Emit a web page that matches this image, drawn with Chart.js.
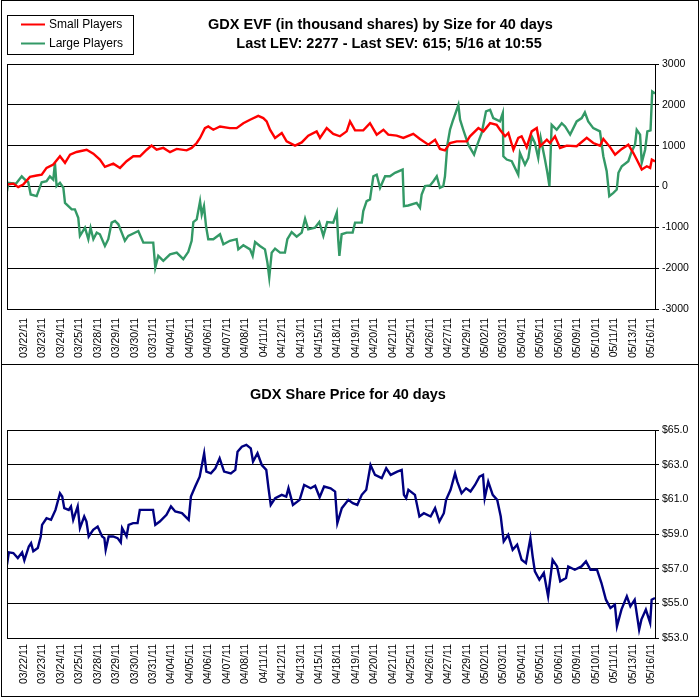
<!DOCTYPE html>
<html>
<head>
<meta charset="utf-8">
<title>GDX EVF by Size</title>
<script src="https://cdn.jsdelivr.net/npm/chart.js@4.4.0/dist/chart.umd.min.js"></script>
<style>
  body { margin: 0; background: #fff; }
  #page { position: relative; width: 700px; height: 698px; background: #fff; }
  #frame { position: absolute; left: 1px; top: 0; width: 696px; height: 695px; border: 1px solid #000; pointer-events: none; }
  #sep { position: absolute; left: 1px; top: 364px; width: 697px; height: 1px; background: #000; }
  canvas { position: absolute; left: 0; }
</style>
</head>
<body>
<div id="page">
  <canvas id="evf" width="700" height="364" style="top:0"></canvas>
  <canvas id="px" width="700" height="334" style="top:364px"></canvas>
  <div id="sep"></div>
  <div id="frame"></div>
</div>
<script>
// date labels under both panels
const dayLabels = ['03/22/11', '03/23/11', '03/24/11', '03/25/11', '03/28/11', '03/29/11', '03/30/11', '03/31/11',
    '04/04/11', '04/05/11', '04/06/11', '04/07/11', '04/08/11', '04/11/11', '04/12/11', '04/13/11', '04/15/11',
    '04/18/11', '04/19/11', '04/20/11', '04/21/11', '04/25/11', '04/26/11', '04/27/11', '04/29/11', '05/02/11',
    '05/03/11', '05/04/11', '05/05/11', '05/06/11', '05/09/11', '05/10/11', '05/11/11', '05/13/11', '05/16/11'];

// Small Players EVF (thousand shares), time in sessions
const smallT = [-0.48, -0.14, 0.12, 0.39, 0.75, 1.11, 1.38, 1.64, 2.0, 2.36, 2.63, 2.9, 3.25, 3.79, 4.15, 4.5, 4.77,
    5.22, 5.58, 5.93, 6.29, 6.65, 7.01, 7.27, 7.54, 7.9, 8.26, 8.62, 9.15, 9.42, 9.69, 9.87, 10.13, 10.31, 10.58,
    10.94, 11.47, 11.83, 12.19, 12.55, 12.99, 13.26, 13.44, 13.62, 13.89, 14.25, 14.51, 14.96, 15.32, 15.67, 16.12,
    16.3, 16.66, 17.01, 17.37, 17.73, 17.91, 18.18, 18.62, 18.98, 19.34, 19.7, 19.96, 20.41, 20.77, 21.3, 21.66,
    22.11, 22.47, 22.73, 23.0, 23.27, 23.63, 24.17, 24.34, 24.79, 25.06, 25.42, 25.77, 25.95, 26.22, 26.4, 26.67,
    26.93, 27.11, 27.38, 27.65, 27.92, 28.1, 28.46, 28.63, 28.9, 29.17, 29.53, 30.06, 30.6, 30.95, 31.31, 31.49,
    31.85, 32.12, 32.48, 32.83, 33.1, 33.28, 33.55, 33.82, 34.0, 34.09, 34.26];
const smallEVF = [50, 70, -15, 50, 235, 270, 290, 455, 540, 740, 580, 780, 845, 900, 805, 660, 480,
    560, 455, 620, 740, 740, 900, 1000, 900, 945, 840, 920, 885, 945, 1065, 1190, 1430, 1470, 1390,
    1470, 1430, 1430, 1550, 1635, 1730, 1675, 1595, 1390, 1190, 1310, 1105, 1000, 1080, 1245, 1350,
    1190, 1430, 1290, 1230, 1350, 1595, 1375, 1375, 1550, 1270, 1390, 1270, 1245, 1190, 1290, 1165,
    1025, 1145, 920, 885, 1065, 1105, 1105, 1230, 1430, 1350, 1550, 1510, 1390, 1230, 1310, 900,
    1190, 1230, 965, 1350, 1430, 985, 1145, 1065, 1230, 945, 1000, 985, 1190, 1065, 1000, 1165,
    965, 780, 920, 1025, 820, 660, 415, 495, 455, 660, 615];

// Large Players EVF
const largeT = [-0.48, -0.41, 0, 0.31, 0.48, 0.66, 0.79, 1.11, 1.38, 1.64, 1.82, 2.0, 2.09, 2.18, 2.36, 2.54, 2.63,
    2.81, 2.99, 3.16, 3.34, 3.43, 3.7, 3.88, 4.0, 4.15, 4.33, 4.5, 4.77, 4.95, 5.13, 5.31, 5.49, 5.67, 5.84, 6.02,
    6.56, 6.83, 7.36, 7.47, 7.63, 7.9, 8.26, 8.62, 8.97, 9.24, 9.42, 9.51, 9.69, 9.87, 9.96, 10.08, 10.19, 10.31,
    10.58, 10.94, 11.12, 11.47, 11.83, 11.92, 12.19, 12.55, 12.69, 12.82, 13.08, 13.35, 13.48, 13.58, 13.71, 13.89,
    14.16, 14.42, 14.55, 14.78, 15.05, 15.32, 15.5, 15.67, 16.03, 16.26, 16.48, 16.69, 17.01, 17.2, 17.28, 17.34,
    17.46, 17.73, 18.05, 18.18, 18.54, 18.62, 18.8, 18.98, 19.16, 19.34, 19.52, 19.79, 20.05, 20.32, 20.73, 20.8,
    21.03, 21.48, 21.66, 21.75, 21.93, 22.2, 22.38, 22.56, 22.73, 22.91, 23.0, 23.13, 23.27, 23.41, 23.63, 23.72,
    23.81, 23.98, 24.25, 24.56, 24.7, 24.97, 25.2, 25.42, 25.59, 25.95, 26.1, 26.13, 26.31, 26.58, 26.93, 27.02,
    27.29, 27.47, 27.65, 27.82, 28.0, 28.13, 28.36, 28.49, 28.6, 28.72, 28.99, 29.26, 29.44, 29.71, 30.06, 30.33,
    30.5, 30.68, 30.95, 31.31, 31.49, 31.67, 31.81, 32.03, 32.21, 32.3, 32.48, 32.83, 33.01, 33.19, 33.28, 33.46,
    33.55, 33.73, 33.85, 34.02, 34.11, 34.26];
const largeEVF = [-115, 90, 70, 250, 170, 105, -195, -235, 105, 130, 250, 170, 575, 10, 90, -30, -400,
    -480, -560, -560, -765, -1210, -1010, -1290, -1010, -1290, -1130, -1170, -1455, -1290, -885, -845, -925, -1130, -1330, -1210,
    -1090, -1375, -1375, -1985, -1700, -1820, -1660, -1620, -1780, -1600, -1330, -870, -805, -360, -685, -480, -970, -1290,
    -1290, -1170, -1415, -1330, -1290, -1540, -1440, -1540, -1700, -1360, -1455, -1540, -1860, -2230, -1620, -1520,
    -1620, -1620, -1290, -1115, -1230, -1130, -790, -1050, -1010, -870, -1210, -870, -885, -640, -1330, -1700,
    -1170, -1130, -1130, -885, -885, -600, -360, -315, 250, 290, -30, 250, 250, 335, 415, -480,
    -465, -400, -520, -195, 10, 25, 130, 250, -30, 10, 250, 1025, 1390, 1595, 1880, 2000,
    1635, 1390, 1025, 780, 985, 1310, 1840, 1880, 1675, 1595, 1800, 740, 660, 620, 290, 820,
    535, 700, 1230, 1065, 700, 1190, 660, 335, 10, 1510, 1390, 1550, 1470, 1270, 1595, 1675,
    1815, 1595, 1430, 1350, 740, 375, -235, -155, -75, 335, 495, 620, 860, 1025, 1390, 1270,
    580, 900, 1350, 1375, 2325, 2277];

// GDX share price ($)
const priceT = [-0.48, -0.38, -0.14, 0.1, 0.33, 0.45, 0.69, 0.81, 0.93, 1.17, 1.33, 1.4, 1.64, 1.88, 2.12, 2.36, 2.48,
    2.59, 2.83, 2.95, 3.07, 3.31, 3.43, 3.66, 3.78, 3.9, 4.14, 4.38, 4.62, 4.74, 4.81, 4.97, 5.21, 5.45, 5.62, 5.69,
    5.93, 6.04, 6.28, 6.52, 6.64, 7.0, 7.35, 7.47, 7.71, 8.07, 8.31, 8.54, 8.9, 9.26, 9.38, 9.61, 9.85, 10.09, 10.21,
    10.45, 10.69, 10.92, 11.16, 11.52, 11.76, 11.88, 12.11, 12.35, 12.59, 12.71, 12.95, 13.18, 13.42, 13.54, 13.66,
    13.9, 14.25, 14.49, 14.61, 14.85, 15.21, 15.45, 15.8, 16.04, 16.28, 16.52, 16.87, 17.11, 17.23, 17.47, 17.82,
    18.06, 18.3, 18.54, 18.78, 19.01, 19.25, 19.61, 19.85, 20.09, 20.44, 20.68, 20.8, 20.92, 21.04, 21.39, 21.63,
    21.87, 22.23, 22.47, 22.7, 22.94, 23.06, 23.3, 23.54, 23.66, 23.89, 24.13, 24.37, 24.61, 24.85, 25.04, 25.13,
    25.32, 25.56, 25.8, 25.99, 26.15, 26.39, 26.63, 26.87, 27.11, 27.34, 27.58, 27.7, 27.82, 28.06, 28.3, 28.53,
    28.77, 29.01, 29.18, 29.49, 29.61, 29.96, 30.32, 30.56, 30.8, 31.15, 31.39, 31.63, 31.87, 32.11, 32.22, 32.46,
    32.75, 32.94, 33.17, 33.41, 33.53, 33.77, 34.0, 34.08, 34.26];
const price = [57.23, 57.94, 57.9, 57.61, 57.94, 57.48, 58.28, 58.47, 58.0, 58.19, 58.86, 59.53, 59.91, 59.82, 60.39, 61.35, 61.16,
    60.49, 60.39, 60.59, 59.82, 60.59, 59.34, 60.01, 59.72, 58.86, 59.24, 59.43, 58.86, 58.76, 58.09, 58.86, 58.86, 58.76, 58.51, 59.34,
    58.86, 59.53, 59.63, 59.63, 60.39, 60.39, 60.39, 59.53, 59.72, 60.11, 60.59, 60.3, 60.2, 59.82, 61.16, 61.74, 62.31, 63.66, 62.6,
    62.5, 62.79, 63.37, 62.6, 62.5, 62.7, 63.75, 64.04, 64.14, 63.94, 63.18, 63.66, 62.98, 62.7, 61.64, 60.68,
    61.07, 61.26, 61.16, 61.64, 60.68, 60.97, 61.83, 61.64, 61.78, 61.12, 61.74, 61.64, 61.45, 59.63, 60.49, 60.97,
    60.78, 60.68, 61.26, 61.55, 62.98, 62.41, 62.22, 62.79, 62.41, 62.6, 62.7, 61.26, 61.07, 61.55, 61.26, 60.01,
    60.2, 60.01, 60.49, 59.72, 60.2, 60.97, 61.55, 62.5, 62.02, 61.35, 61.64, 61.45, 61.83, 62.31, 62.41, 61.07,
    62.02, 61.26, 60.97, 60.01, 58.57, 58.95, 58.09, 58.38, 57.51, 57.32, 58.76, 57.71, 56.84, 56.36, 56.75, 55.4,
    57.51, 57.13, 56.27, 56.46, 57.13, 56.94, 57.13, 57.42, 56.94, 56.94, 56.17, 55.21, 54.73, 54.92, 53.68, 54.64,
    55.4, 54.83, 55.21, 53.48, 54.06, 54.64, 53.87, 55.21, 55.31];

const FONT = "'Liberation Sans', Arial, sans-serif";
const tStart = -0.48, tEnd = 34.26;
const labelStart = 0.43, labelStep = 0.9888;

function xy(ts, vs) {
    return ts.map((t, i) => ({ x: t, y: vs[i] }));
}

function dateAxis(height, pad) {
    return {
        type: 'linear',
        min: tStart,
        max: tEnd,
        grid: { display: false, drawTicks: false },
        border: { color: '#000', width: 1 },
        ticks: {
            autoSkip: false,
            maxRotation: 90,
            minRotation: 90,
            padding: pad,
            color: '#000',
            font: { family: FONT, size: 10.5 },
            callback: (v, i) => dayLabels[i]
        },
        afterBuildTicks: (s) => {
            s.ticks = dayLabels.map((d, i) => ({ value: labelStart + i * labelStep }));
        },
        afterFit: (s) => { s.height = height; }
    };
}

// plot frame + texts drawn on the canvas
function decor(texts, legend) {
    return {
        id: 'decor',
        afterDraw(chart) {
            const ctx = chart.ctx;
            const a = chart.chartArea;
            ctx.save();
            ctx.strokeStyle = '#000';
            ctx.lineWidth = 1;
            ctx.strokeRect(a.left + 0.5, a.top + 0.5, a.right - a.left, a.bottom - a.top);
            ctx.fillStyle = '#000';
            ctx.textAlign = 'center';
            ctx.textBaseline = 'middle';
            ctx.font = 'bold 14.5px ' + FONT;
            texts.forEach(t => ctx.fillText(t[0], t[1], t[2]));
            if (legend) {
                ctx.strokeRect(7.5, 15.5, 126, 39);
                ctx.font = '12px ' + FONT;
                ctx.textAlign = 'left';
                legend.forEach((it, i) => {
                    const y = 24.5 + i * 19;
                    ctx.strokeStyle = it.color;
                    ctx.lineWidth = 2;
                    ctx.beginPath();
                    ctx.moveTo(21, y);
                    ctx.lineTo(45, y);
                    ctx.stroke();
                    ctx.fillText(it.label, 49, y + 0.5);
                });
            }
            ctx.restore();
        }
    };
}

new Chart(document.getElementById('evf'), {
    type: 'line',
    data: {
        datasets: [
            { label: 'Small Players', data: xy(smallT, smallEVF), borderColor: '#ff0000', borderWidth: 2.4 },
            { label: 'Large Players', data: xy(largeT, largeEVF), borderColor: '#339966', borderWidth: 2.4 }
        ]
    },
    options: {
        responsive: false,
        animation: false,
        layout: { padding: { left: 7, top: 64, right: 0, bottom: 0 } },
        elements: { point: { radius: 0 }, line: { tension: 0 } },
        plugins: { legend: { display: false }, tooltip: { enabled: false } },
        scales: {
            x: dateAxis(55, 9),
            y: {
                position: 'right',
                min: -3000,
                max: 3000,
                ticks: {
                    stepSize: 1000, padding: 3, color: '#000', font: { family: FONT, size: 10.5 },
                    callback: (v) => String(v)
                },
                grid: { color: '#000', tickLength: 4, tickColor: '#000' },
                border: { color: '#000' },
                afterFit: (s) => { s.width = 45; }
            }
        }
    },
    plugins: [decor([
        ['GDX EVF (in thousand shares) by Size for 40 days', 380.5, 25],
        ['Last LEV: 2277 - Last SEV: 615; 5/16 at 10:55', 389, 44]
    ], [
        { label: 'Small Players', color: '#ff0000' },
        { label: 'Large Players', color: '#339966' }
    ])]
});

new Chart(document.getElementById('px'), {
    type: 'line',
    data: {
        datasets: [
            { label: 'GDX', data: xy(priceT, price), borderColor: '#000080', borderWidth: 2.4 }
        ]
    },
    options: {
        responsive: false,
        animation: false,
        layout: { padding: { left: 7, top: 66, right: 0, bottom: 0 } },
        elements: { point: { radius: 0 }, line: { tension: 0 } },
        plugins: { legend: { display: false }, tooltip: { enabled: false } },
        scales: {
            x: dateAxis(60, 6),
            y: {
                position: 'right',
                min: 53,
                max: 65,
                ticks: {
                    stepSize: 2, padding: 3, color: '#000', font: { family: FONT, size: 10.5 },
                    callback: (v) => '$' + v.toFixed(1)
                },
                grid: { color: '#000', tickLength: 4, tickColor: '#000' },
                border: { color: '#000' },
                afterFit: (s) => { s.width = 45; }
            }
        }
    },
    plugins: [decor([['GDX Share Price for 40 days', 348, 31]], null)]
});
</script>
</body>
</html>
